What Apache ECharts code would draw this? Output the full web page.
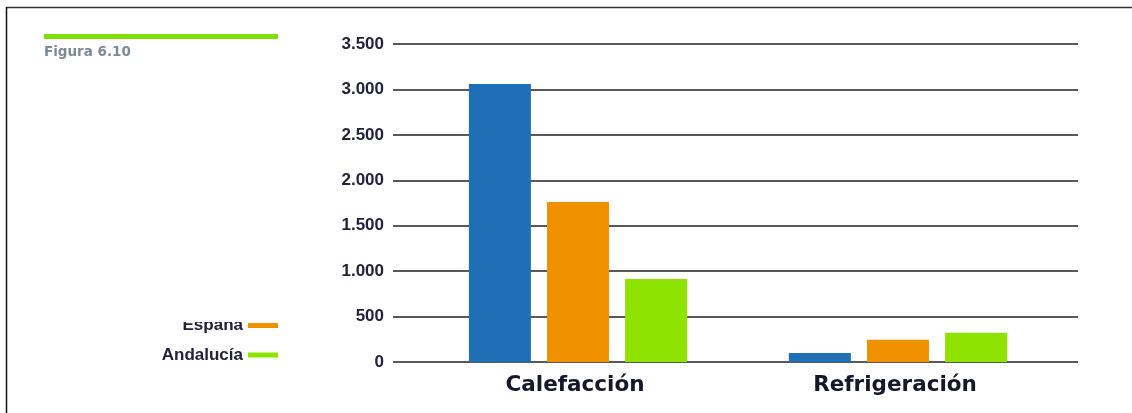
<!DOCTYPE html>
<html>
<head>
<meta charset="utf-8">
<script src="https://cdn.jsdelivr.net/npm/echarts@6/dist/echarts.min.js"></script>
<style>
  html, body { margin: 0; padding: 0; background: #fff; }
  #chart { width: 1132px; height: 413px; }
</style>
</head>
<body>
<div id="chart"></div>
<script>
// Consumo por uso: calefacción y refrigeración
const categories = ['Calefacción', 'Refrigeración'];
const seriesNames = ['Europa', 'España', 'Andalucía'];
const europa = [3060, 100];
const espana = [1760, 245];
const andalucia = [913, 322];
const yTicks = [0, 500, 1000, 1500, 2000, 2500, 3000, 3500];
const colors = ['#1f6fb6', '#f09100', '#8ee400'];

const yMin = yTicks[0];
const yMax = yTicks[yTicks.length - 1];
const yStep = yTicks[1] - yTicks[0];

const fmt = v => v.toLocaleString('de-DE');

const chart = echarts.init(document.getElementById('chart'), null, { renderer: 'canvas' });

const option = {
  backgroundColor: '#fff',
  animation: false,
  color: colors,
  grid: [
    // axis & gridlines
    { left: 393, right: 54, top: 44, bottom: 51, containLabel: false },
    // bars
    { left: 418, right: 74, top: 44, bottom: 51, containLabel: false }
  ],
  legend: {
    data: ['España', 'Andalucía'],
    orient: 'vertical',
    right: 1132 - 278,
    top: 317,
    padding: 0,
    align: 'right',
    itemWidth: 30,
    itemHeight: 5,
    itemGap: 12.5,
    icon: 'rect',
    selectedMode: false,
    textStyle: {
      fontFamily: 'Liberation Sans Narrow, Liberation Sans, sans-serif',
      fontWeight: 'bold',
      fontSize: 17,
      color: '#22223a',
      padding: [0, 0, 0, 0]
    }
  },
  xAxis: [
    {
      gridIndex: 0, type: 'value', min: 0, max: 1, show: false
    },
    {
      gridIndex: 1,
      type: 'category',
      data: categories,
      axisLine: { show: false },
      axisTick: { show: false },
      axisLabel: {
        margin: 12,
        padding: [0, 6, 0, 0],
        fontFamily: 'DejaVu Sans, sans-serif',
        fontWeight: 'bold',
        fontSize: 21.5,
        color: '#15172b'
      }
    }
  ],
  yAxis: [
    {
      gridIndex: 0,
      type: 'value',
      min: yMin, max: yMax, interval: yStep,
      axisLine: { show: false },
      axisTick: { show: false },
      splitLine: { show: true, lineStyle: { color: '#222', width: 1.5 } },
      axisLabel: {
        margin: 9,
        formatter: fmt,
        fontFamily: 'Liberation Sans Narrow, Liberation Sans, sans-serif',
        fontWeight: 'bold',
        fontSize: 17,
        color: '#22223a'
      }
    },
    {
      gridIndex: 1,
      type: 'value',
      min: yMin, max: yMax, interval: yStep,
      show: false
    }
  ],
  series: [
    { name: seriesNames[0], type: 'bar', xAxisIndex: 1, yAxisIndex: 1, data: europa, barWidth: 62, barGap: '26%' },
    { name: seriesNames[1], type: 'bar', xAxisIndex: 1, yAxisIndex: 1, data: espana, barWidth: 62, barGap: '26%' },
    { name: seriesNames[2], type: 'bar', xAxisIndex: 1, yAxisIndex: 1, data: andalucia, barWidth: 62, barGap: '26%' }
  ],
  graphic: [
    // frame: top and left rules
    { type: 'line', shape: { x1: 6, y1: 7.5, x2: 1132, y2: 7.5 }, style: { stroke: '#333', lineWidth: 1.5 }, z: 10 },
    { type: 'line', shape: { x1: 6.5, y1: 7, x2: 6.5, y2: 413 }, style: { stroke: '#111', lineWidth: 1.5 }, z: 10 },
    // header bar and figure number
    { type: 'rect', shape: { x: 44, y: 34, width: 234, height: 5 }, style: { fill: '#7fe000' }, z: 10 },
    { type: 'text', left: 44, top: 45, style: { text: 'Figura 6.10', fill: '#7c8b98', font: 'bold 13.5px "DejaVu Sans", sans-serif' }, z: 10 },
    // mask over the upper part of the first legend row
    { type: 'rect', shape: { x: 120, y: 290, width: 170, height: 32 }, style: { fill: '#fff' }, z: 200, zlevel: 1 }
  ]
};

chart.setOption(option);
</script>
</body>
</html>
